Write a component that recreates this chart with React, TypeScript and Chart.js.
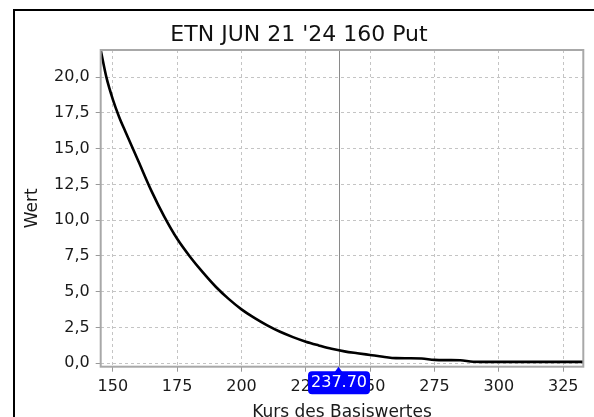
import React, { useEffect, useRef } from 'react';
import { Chart, registerables } from 'chart.js';

Chart.register(...registerables);

const titleText = "ETN JUN 21 '24 160 Put";
const xAxisTitle = 'Kurs des Basiswertes';
const yAxisTitle = 'Wert';

const strikes = [
  145.3, 147.5, 150, 152.5, 155, 160, 165, 170, 175, 180, 185, 190, 195, 200, 205, 210, 215, 220,
  225, 230, 235, 240, 245, 250, 255, 260, 265, 270, 275, 280, 285, 290, 295, 300, 305, 310, 315,
  320, 325, 330, 332.8,
];
const optionValues = [
  21.9, 20.0, 18.45, 17.2, 16.15, 14.1, 12.05, 10.25, 8.7, 7.45, 6.35, 5.35, 4.5, 3.77, 3.17,
  2.65, 2.2, 1.83, 1.51, 1.25, 1.01, 0.83, 0.7, 0.58, 0.46, 0.36, 0.35, 0.33, 0.24, 0.22, 0.21,
  0.11, 0.1, 0.1, 0.1, 0.1, 0.1, 0.1, 0.1, 0.1, 0.1,
];
const xTickValues = [150, 175, 200, 225, 250, 275, 300, 325];
const yTickValues = [0, 2.5, 5, 7.5, 10, 12.5, 15, 17.5, 20];
const xRange = [145.3, 332.8];
const yRange = [-0.24, 21.9];
const markerValue = 237.7;
const markerLabel = '237.70';

const FONT = '"DejaVu Sans", Verdana, sans-serif';

const overlayPlugin = {
  id: 'overlay',
  beforeDatasetsDraw(chart: any) {
    const { ctx, chartArea, scales } = chart;
    const px = scales.x.getPixelForValue(markerValue);
    ctx.save();
    ctx.strokeStyle = '#8a8a8a';
    ctx.lineWidth = 1;
    ctx.beginPath();
    ctx.moveTo(Math.round(px) + 0.5, chartArea.top);
    ctx.lineTo(Math.round(px) + 0.5, chartArea.bottom);
    ctx.stroke();
    ctx.restore();
  },
  afterDraw(chart: any) {
    const { ctx, chartArea, scales } = chart;
    ctx.save();
    // plot frame
    ctx.strokeStyle = '#a8a8a8';
    ctx.lineWidth = 2;
    ctx.strokeRect(chartArea.left, chartArea.top, chartArea.right - chartArea.left, chartArea.bottom - chartArea.top);
    // title
    ctx.fillStyle = '#111';
    ctx.font = `22px ${FONT}`;
    ctx.textAlign = 'center';
    ctx.textBaseline = 'alphabetic';
    ctx.fillText(titleText, 299, 40.5);
    // marker label
    const px = scales.x.getPixelForValue(markerValue);
    const boxTop = chartArea.bottom + 4.5;
    const boxH = 23;
    ctx.font = `16px ${FONT}`;
    const tw = ctx.measureText(markerLabel).width;
    const boxW = tw + 6;
    const bx = px - boxW / 2 + 0.5;
    ctx.fillStyle = '#0000ff';
    ctx.beginPath();
    ctx.moveTo(px, chartArea.bottom);
    ctx.lineTo(px - 4, boxTop + 1);
    ctx.lineTo(px + 4, boxTop + 1);
    ctx.closePath();
    ctx.fill();
    ctx.beginPath();
    (ctx as any).roundRect(bx, boxTop, boxW, boxH, 4);
    ctx.fill();
    ctx.fillStyle = '#ffffff';
    ctx.textBaseline = 'middle';
    ctx.fillText(markerLabel, bx + boxW / 2, boxTop + boxH / 2 + 0.5);
    ctx.restore();
  },
};

export default function App() {
  const canvasRef = useRef<HTMLCanvasElement | null>(null);

  useEffect(() => {
    if (!canvasRef.current) return;
    const points = strikes.map((x, i) => ({ x, y: optionValues[i] }));
    const tickFont = { family: FONT, size: 16 };
    const chart = new Chart(canvasRef.current, {
      type: 'line',
      data: {
        datasets: [
          {
            data: points,
            borderColor: '#000000',
            borderWidth: 2.6,
            pointRadius: 0,
            tension: 0.3,
            cubicInterpolationMode: 'monotone',
            fill: false,
          } as any,
        ],
      },
      plugins: [overlayPlugin],
      options: {
        animation: false,
        responsive: true,
        maintainAspectRatio: false,
        layout: { padding: { top: 50, right: 10.7, left: 0, bottom: 0 } },
        plugins: {
          legend: { display: false },
          title: { display: false },
          tooltip: { enabled: false },
        },
        scales: {
          x: {
            type: 'linear',
            min: xRange[0],
            max: xRange[1],
            afterBuildTicks: (s: any) => {
              s.ticks = xTickValues.map((v) => ({ value: v }));
            },
            afterFit: (s: any) => {
              s.height = 58.3;
            },
            ticks: {
              font: tickFont,
              color: '#1a1a1a',
              padding: 6,
              maxRotation: 0,
              autoSkip: false,
              callback: (v: any) => String(v),
            },
            grid: {
              color: '#c4c4c4',
              lineWidth: 1,
              borderDash: [3, 3],
              tickBorderDash: [],
              tickColor: '#999999',
              tickLength: 5,
              tickWidth: 1,
            } as any,
            border: { display: false, dash: [3, 3] } as any,
            title: {
              display: true,
              text: xAxisTitle,
              font: { family: FONT, size: 17 },
              color: '#1a1a1a',
              padding: { top: 0, bottom: 2.5 },
            },
          },
          y: {
            type: 'linear',
            min: yRange[0],
            max: yRange[1],
            afterBuildTicks: (s: any) => {
              s.ticks = yTickValues.map((v) => ({ value: v }));
            },
            afterFit: (s: any) => {
              s.width = 100.7;
            },
            ticks: {
              font: tickFont,
              color: '#1a1a1a',
              padding: 6,
              callback: (v: any) => Number(v).toFixed(1).replace('.', ','),
            },
            grid: {
              color: '#c4c4c4',
              lineWidth: 1,
              borderDash: [3, 3],
              tickBorderDash: [],
              tickColor: '#999999',
              tickLength: 5,
              tickWidth: 1,
            } as any,
            border: { display: false, dash: [3, 3] } as any,
            title: {
              display: true,
              text: yAxisTitle,
              font: { family: FONT, size: 17 },
              color: '#1a1a1a',
              padding: { top: 22.3, bottom: 0 },
            },
          },
        },
      },
    });
    return () => chart.destroy();
  }, []);

  return (
    <div style={{ position: 'fixed', left: 0, top: 0, width: 594, height: 417, overflow: 'hidden', background: '#fff' }}>
      <div
        style={{
          position: 'absolute',
          left: 13,
          top: 9,
          width: 620,
          height: 440,
          borderLeft: '2px solid #000',
          borderTop: '2px solid #000',
          boxSizing: 'border-box',
        }}
      />
      <div style={{ position: 'absolute', left: 0, top: 0, width: 594, height: 425 }}>
        <canvas ref={canvasRef} />
      </div>
    </div>
  );
}
